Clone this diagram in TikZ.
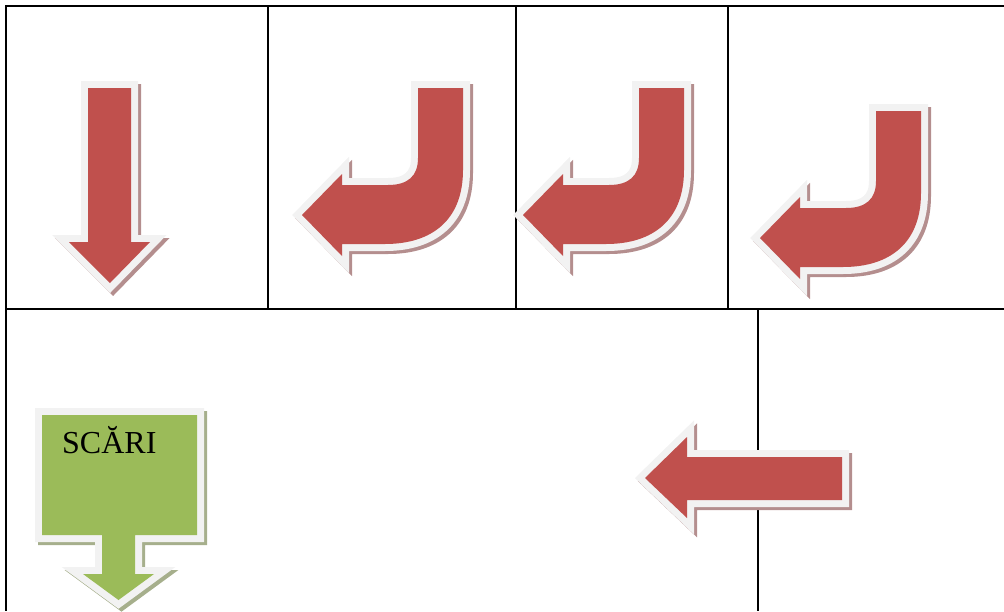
\documentclass[tikz,border=0pt]{standalone}
\usepackage{fontspec}
\setmainfont{Liberation Serif}
\definecolor{arrowred}{HTML}{C0504D}
\definecolor{redshadow}{RGB}{180,142,142}
\definecolor{arrowgreen}{HTML}{9BBB59}
\definecolor{greenshadow}{RGB}{166,175,140}
\definecolor{borderwhite}{HTML}{F2F2F2}
\tikzset{
  tableline/.style={line width=2pt, black},
  shapeshadow/.style={draw=#1, fill=#1, line width=14pt, line join=miter},
  shapeborder/.style={draw=borderwhite, fill=borderwhite, line width=14pt, line join=miter},
  shapefill/.style={fill=#1},
  labeltext/.style={font=\fontsize{32}{36}\selectfont, inner sep=0pt, anchor=base west}
}
\newcommand{\layeredshape}[3]{%
  \draw[shapeshadow=#2, shift={(3,3)}] #1;
  \draw[shapeborder] #1;
  \fill[shapefill=#3] #1;
}
\newcommand{\downpath}{(88,88) -- (131,88) -- (131,242) -- (150,242) -- (110,283) -- (69,242) -- (88,242) -- cycle}
\newcommand{\uturnpath}{(418,88) -- (463,88) -- (463,170) .. controls (463,220) and (432,244) .. (385,244) -- (342,244) -- (342,256) -- (302,215) -- (342,174) -- (342,185) -- (388,185) .. controls (408,185) and (418,176) .. (418,158) -- cycle}
\newcommand{\leftpath}{(842,457) -- (842,500) -- (687,500) -- (687,518) -- (645,478) -- (687,437) -- (687,457) -- cycle}
\newcommand{\greenpath}{(42,415) -- (197,415) -- (197,535) -- (135,535) -- (135,574) -- (154,574) -- (118.5,600) -- (83,574) -- (102,574) -- (102,535) -- (42,535) -- cycle}
\begin{document}
\begin{tikzpicture}[x=1pt,y=-1pt]
\useasboundingbox (0,0) rectangle (1004,611);
% table
\draw[tableline] (6,6) -- (1004,6);
\draw[tableline] (6,309) -- (1004,309);
\draw[tableline] (6,5) -- (6,611);
\draw[tableline] (268,6) -- (268,309);
\draw[tableline] (516,6) -- (516,309);
\draw[tableline] (728,6) -- (728,309);
\draw[tableline] (758,309) -- (758,611);
% arrows
\layeredshape{\downpath}{redshadow}{arrowred}
\layeredshape{\uturnpath}{redshadow}{arrowred}
\begin{scope}[shift={(221,0)}]
\layeredshape{\uturnpath}{redshadow}{arrowred}
\end{scope}
\begin{scope}[shift={(458,23)}]
\layeredshape{\uturnpath}{redshadow}{arrowred}
\end{scope}
\layeredshape{\leftpath}{redshadow}{arrowred}
\layeredshape{\greenpath}{greenshadow}{arrowgreen}
\node[labeltext] (scari) at (62,453) {SCĂRI};
\end{tikzpicture}
\end{document}
